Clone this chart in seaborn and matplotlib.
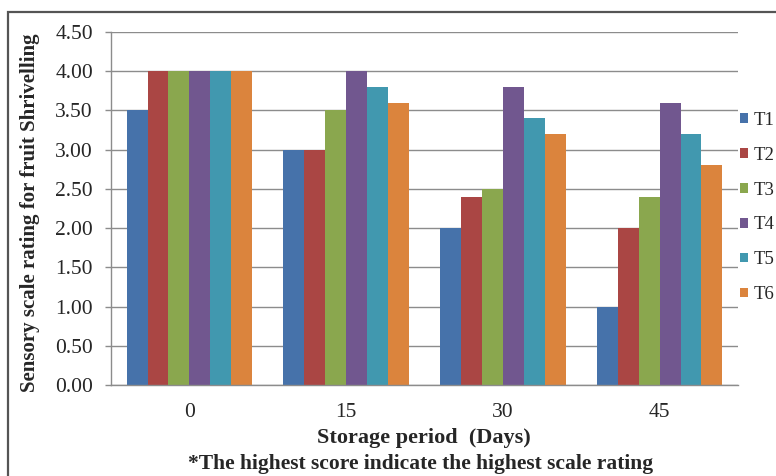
import matplotlib
matplotlib.use("Agg")
import matplotlib.pyplot as plt
import seaborn as sns
import pandas as pd
from matplotlib.patches import Rectangle, Patch

days = ["0", "15", "30", "45"]
treatments = ["T1", "T2", "T3", "T4", "T5", "T6"]
T1 = [3.5, 3.0, 2.0, 1.0]
T2 = [4.0, 3.0, 2.4, 2.0]
T3 = [4.0, 3.5, 2.5, 2.4]
T4 = [4.0, 4.0, 3.8, 3.6]
T5 = [4.0, 3.8, 3.4, 3.2]
T6 = [4.0, 3.6, 3.2, 2.8]
yticks = [0.0, 0.5, 1.0, 1.5, 2.0, 2.5, 3.0, 3.5, 4.0, 4.5]
colors = ["#4672AA", "#AA4644", "#8AA74E", "#71578F", "#4198AF", "#DB843D"]

series = [T1, T2, T3, T4, T5, T6]
rows = []
for t, vals in zip(treatments, series):
    for d, v in zip(days, vals):
        rows.append({"Day": d, "Treatment": t, "Value": v})
df = pd.DataFrame(rows)

sns.set_style("white")
plt.rcParams["font.family"] = ["Liberation Serif", "DejaVu Serif"]

fig = plt.figure(figsize=(7.76, 4.76), dpi=100)
W, H = 776, 476
ax = fig.add_axes([111 / W, 1 - 385 / H, (738 - 111) / W, (385 - 32) / H])

sns.barplot(data=df, x="Day", y="Value", hue="Treatment", order=days,
            hue_order=treatments, palette=colors, width=0.8, ax=ax,
            saturation=1, legend=False, edgecolor="none", linewidth=0)

ax.set_ylim(0, 4.5)
ax.set_yticks(yticks)
ax.set_yticklabels([f"{v:.2f}" for v in yticks], fontsize=15.5)
ax.tick_params(axis="x", length=0, pad=13, labelsize=15.5)
ax.tick_params(axis="y", length=4, width=1, color="#8c8c8c", pad=9, direction="out", left=True)
ax.set_axisbelow(True)
ax.yaxis.grid(True, color="#8c8c8c", linewidth=1)
for s in ["top", "right"]:
    ax.spines[s].set_visible(False)
for s in ["left", "bottom"]:
    ax.spines[s].set_color("#8c8c8c")
    ax.spines[s].set_linewidth(1)
ax.set_xlabel("")
ax.set_ylabel("")

fig.text(30 / W, 1 - 213 / H, "Sensory scale rating for fruit Shrivelling",
         rotation=90, ha="center", va="center", fontsize=15, fontweight="bold")
fig.text(424 / W, 1 - 438 / H, "Storage period  (Days)", ha="center", va="center",
         fontsize=16, fontweight="bold")
fig.text(421 / W, 1 - 464 / H, "*The highest score indicate the highest scale rating",
         ha="center", va="center", fontsize=15.5, fontweight="bold")

handles = [Patch(facecolor=c, edgecolor="none") for c in colors]
fig.legend(handles, treatments, loc="upper left",
           bbox_to_anchor=(740 / W, 1 - 112 / H), frameon=False, fontsize=13.5,
           handlelength=0.42, handleheight=0.42, handletextpad=0.3,
           labelspacing=0.95, borderaxespad=0, borderpad=0)

fig.patches.append(Rectangle((8 / W, -0.1), 1.2, 1 - 12 / H + 0.1,
                             transform=fig.transFigure, fill=False,
                             edgecolor="#555555", linewidth=1.6, figure=fig))

fig.savefig("out.png", dpi=100)
